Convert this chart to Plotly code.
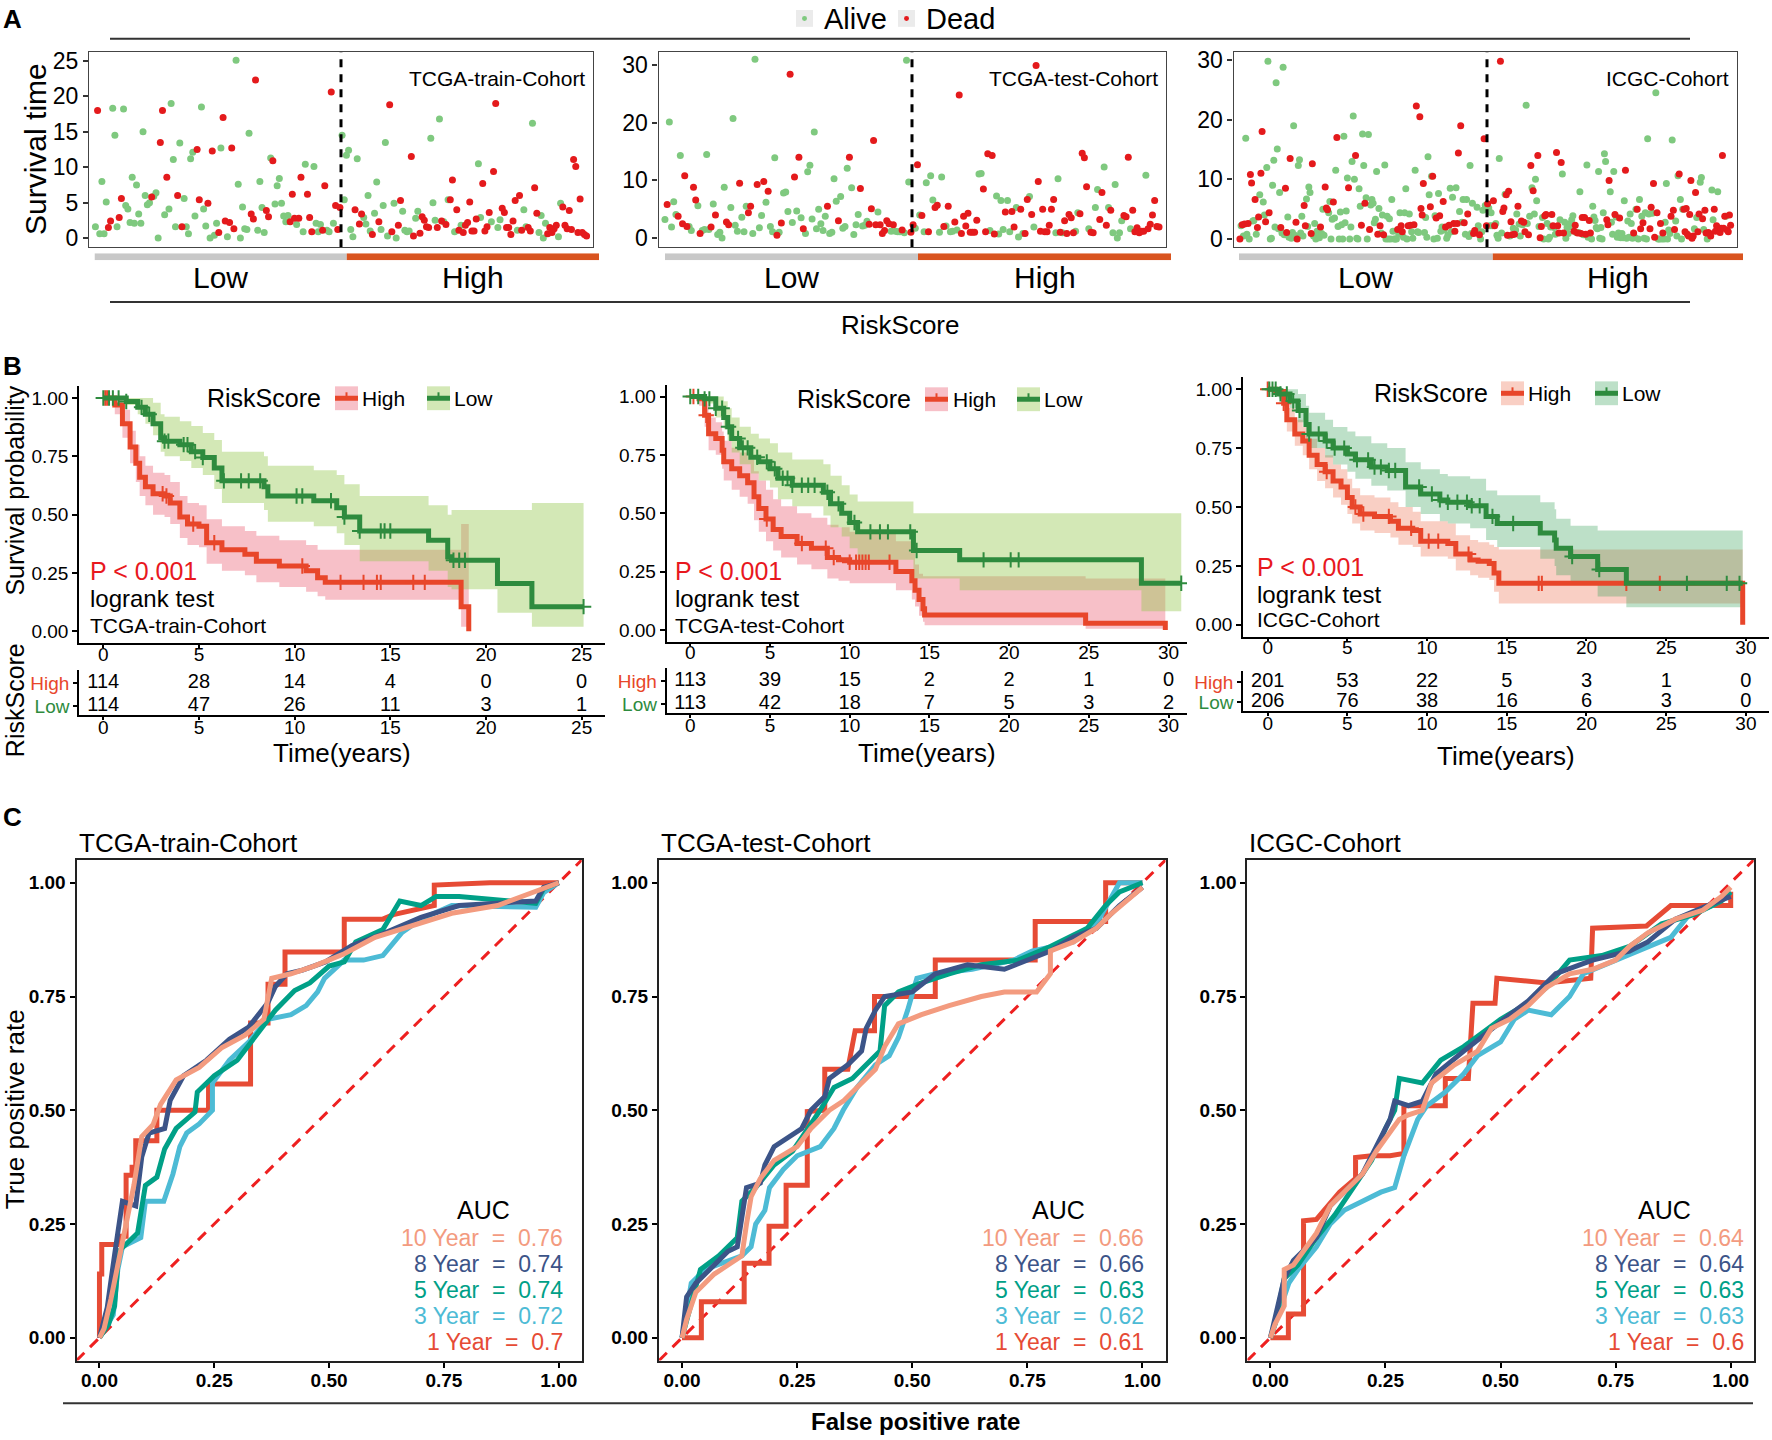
import plotly.graph_objects as go

W, H = 1772, 1440
FONT = "Liberation Sans, Arial, Helvetica, sans-serif"

def dx(a, b):
    return [a / W, b / W]

def dy(top, bottom):
    return [1 - bottom / H, 1 - top / H]

def px(x):
    return x / W

def py(y):
    return 1 - y / H

# ======================= DATA =======================
cohort_names = ["TCGA-train-Cohort", "TCGA-test-Cohort", "ICGC-Cohort"]

# ---- Panel A: survival time ordered by risk score (A = alive, D = dead)
train_low_time = [1.6, 18, 0.6, 8.0, 0.6, 5.1, 1.5, 2.4, 18.3, 14.5,
                  1.6, 2.9, 5.6, 18.2, 4.6, 4.1, 2.2, 8.6, 2.1, 7.5,
                  3.4, 2.1, 15, 6.0, 4.7, 5.0, 5.8, 5.9, 6.4, 0,
                  13.5, 18, 3.3, 8.6, 4.1, 19, 11.1, 1.6, 6.0, 13.4,
                  1.6, 5.6, 1.6, 0.6, 11.2, 12.1, 3.1, 12.5, 5.4, 18.5,
                  4.1, 1.7, 4.9, 0, 12.3, 0.4, 2.1, 0.8, 12.7, 17,
                  2.4, 0.2, 2.2, 12.7, 1.3, 25.1, 7.6, 0, 4.4, 1.3,
                  1.2, 14.8, 3.4, 2.7, 22.3, 1.1, 8.0, 4.3, 0.8, 3.9,
                  3.0, 11.3, 10.9, 4.8, 7.4, 8.4, 4.9, 3.1, 2.3, 3.2,
                  2.3, 6.2, 2.8, 1.9, 2.8, 8.6, 0.9, 10.4, 6.2, 2.9,
                  0.9, 10.1, 2.1, 0.9, 1.9, 1.1, 7.4, 1.1, 0.9, 20.6,
                  2.1, 4.6, 1.2, 4.3]
train_low_status = ("ADAAAADDAA" "ADDAAAAAAA" "AAAAAADAAA" "DDADAAAADA" "DAAAAAADDA"
                    "AADADAADAD" "DADDDAAAAA" "AADDDAAAAD" "DADAAAAAAA" "DDDADDAADD"
                    "DAAAADDAAD" "ADDD")
train_high_time = [14.5, 5.4, 11.7, 12.4, 1.2, 0.2, 4.0, 11.2, 2.0, 3.4,
                   2.9, 2.0, 6.0, 1.0, 0.5, 3.5, 7.9, 2.3, 1.2, 4.6,
                   13.5, 0.3, 18.8, 0.9, 4.9, 0, 1.8, 5.3, 3.8, 1.1,
                   0.9, 1.0, 11.5, 0.3, 2.8, 3.8, 0.7, 3.0, 2.5, 1.6,
                   1.5, 14.1, 5.0, 2.5, 1.5, 16.8, 2.4, 2.3, 1.9, 5.4,
                   5.4, 8.2, 0.9, 4.0, 1.1, 1.8, 0.8, 1.8, 2.2, 5.1,
                   1.0, 1.0, 2.7, 10.5, 2.9, 7.7, 1.0, 1.6, 3.6, 2.3,
                   9.4, 19.0, 1.5, 2.6, 4.2, 3.6, 1.5, 1.5, 0.5, 2.4,
                   5.3, 1.1, 6.0, 1.1, 4.0, 1.6, 1.5, 1.0, 16.2, 7.1,
                   3.5, 0.8, 3.2, 0, 2.1, 0.6, 1.5, 0.8, 1.3, 1.8,
                   0.2, 4.9, 4.4, 1.8, 1.3, 3.9, 1.2, 11.1, 10.1, 0.8,
                   5.5, 0.8, 0.5, 0.3]
train_high_status = ("AAAAAADADD" "AAAADAADAA" "AADDAADDAA" "AADDAADDDD" "DAAADADADA"
                     "DDADDADDDD" "DDDAADDDDA" "DDAADDDDDD" "DADDAADDAD" "DAAAADDDDD"
                     "AADDDDDDDD" "DDDD")

test_low_time = [3.2, 5.8, 20.1, 1.9, 6.3, 4.1, 3.8, 14.3, 2.5, 10.8,
                 2.0, 2.0, 1.3, 8.8, 6.6, 5.6, 0.8, 1.3, 1.5, 14.5,
                 1.5, 1.9, 5.9, 4.0, 0.6, 1.0, 0, 8.8, 2.8, 2.3,
                 5.3, 20.7, 2.2, 1.2, 9.5, 3.6, 1.1, 5.5, 4.4, 5.5,
                 0.8, 31, 9.3, 1.8, 3.9, 9.8, 6.2, 8.1, 2.0, 1.1,
                 13.9, 0.5, 1.0, 2.6, 7.8, 8.0, 4.6, 28.4, 2.7, 10.6,
                 4.7, 14, 3.5, 1.6, 0.8, 11.5, 12.6, 3.3, 18.4, 1.6,
                 5.0, 2.5, 1.3, 3.8, 5.5, 0.8, 1.0, 10.3, 6.4, 3.0,
                 7.2, 1.7, 2.0, 12.1, 14, 8.7, 0.6, 2.3, 4.1, 8.6,
                 2.1, 2.2, 2.9, 2.4, 5.1, 16.9, 2.3, 4.5, 2.3, 0.8,
                 1.3, 3.0, 2.5, 1.2, 2.3, 1.2, 1.1, 1.1, 1.4, 0.9,
                 30.8, 9.7, 1.0]
test_low_status = ("ADAAAADADD" "DAADDADAAA" "ADADAAAADD" "AAAADAAADD" "AADAADADAA"
                   "ADADAAADAD" "ADADAAAAAA" "AAAADAAAAD" "AAAADAAAAD" "AAADDDDADD"
                   "DDDADAAADA" "AAD")
test_high_time = [2.3, 1.7, 12.7, 4.0, 3.9, 1.1, 9.6, 1.1, 10.8, 6.6,
                  5.3, 5.7, 1.0, 10.6, 2.0, 2.1, 5.5, 1.1, 1.2, 2.8,
                  1.4, 24.8, 0.8, 3.8, 2.1, 4.3, 1.0, 1.0, 1.0, 3.1,
                  11.1, 11.2, 8.5, 1.1, 14.6, 1.3, 14.3, 0.7, 7.3, 0.7,
                  6.5, 1.5, 4.5, 6.5, 1.1, 4.6, 1.9, 5.3, 0.2, 5.0,
                  0.8, 0.8, 6.7, 7.2, 4.1, 1.9, 29.9, 9.8, 1.2, 5.0,
                  1.1, 1.1, 2.2, 5.0, 6.7, 0.9, 10.3, 1.0, 0.9, 3.0,
                  0.8, 4.1, 3.5, 0.9, 1.2, 4.4, 4.2, 14.7, 13.9, 8.9,
                  1.6, 1.0, 0.9, 5.3, 8.4, 3.2, 7.9, 12.3, 2.2, 5.3,
                  4.8, 0.9, 9.3, 0, 0.9, 3.0, 3.9, 3.7, 14, 1.6,
                  4.8, 1.1, 1.8, 0.9, 1.2, 1.2, 10.9, 1.6, 2.4, 4.0,
                  6.5, 2.0, 1.9]
test_high_status = ("DADADAADAA" "DDAADADAAD" "ADDDDDDDDD" "AADDDADDAA" "AADAADDAAD"
                    "ADDADADDDD" "DDDDDAADAD" "DDDDAADDDD" "ADDAADDADA" "DAAAAADDDA"
                    "DDDDDDADDD" "DDD")

icgc_low_time = [0, 2.2, 2.4, 0.5, 2.5, 16.9, 0.8, 2.6, 0, 10.8,
                 9.4, 3.0, 3.1, 6.6, 0.8, 1.9, 3.7, 7.4, 11, 18,
                 6.2, 4.0, 2.9, 12, 29.8, 4.4, 0, 0.1, 9.0, 13.2,
                 2.0, 26.2, 15.1, 1.7, 7.8, 1.9, 1.0, 28.8, 0.7, 8.5,
                 1.1, 3.7, 0.3, 13.5, 0.1, 1.1, 19, 0.6, 2.8, 0,
                 12.3, 13.3, 1.0, 3.8, 0.5, 5.6, 2.2, 6.7, 2.1, 8.7,
                 7.8, 0.9, 12.6, 0.5, 2.6, 0, 1.3, 0.3, 0.2, 2.0,
                 0.9, 5.0, 0.6, 8.7, 5.2, 4.9, 4.4, 6.3, 0, 3.3,
                 6.2, 3.5, 11.5, 17, 2.1, 0, 4.5, 2.4, 0, 17.2,
                 2.7, 4.7, 10.2, 8.6, 0, 2.0, 13, 20.6, 10, 14,
                 0.1, 0, 8.4, 5.5, 2.3, 17.6, 12.3, 6.0, 6.9, 0,
                 17.5, 1.6, 5.7, 6.6, 6.0, 2.7, 3.3, 11.3, 0.8, 5.1,
                 2.2, 1.0, 4.0, 0.7, 12.4, 0, 3.8, 0, 3.4, 0,
                 6.6, 1.3, 0, 0, 0, 1.6, 0.8, 4.4, 2.2, 1.2,
                 0.3, 4.4, 8.4, 0, 2.2, 4.2, 2.3, 1.2, 0.1, 2.4,
                 11.5, 22.3, 1.2, 1.1, 20.5, 5.1, 4.0, 9.3, 1.1, 3.6,
                 0.3, 13.8, 7.4, 5.4, 10.5, 10.5, 0, 3.9, 3.5, 0.1,
                 7.6, 3.9, 1.3, 2.0, 6.3, 1.5, 2.0, 0.1, 0.6, 2.3,
                 8.5, 1.2, 7.0, 2.6, 1.3, 8.6, 2.6, 14.4, 4.6, 19,
                 2.8, 6.6, 2.7, 0.8, 6.6, 4.2, 0.4, 12.3, 0.9, 6.0,
                 0.9, 1.4, 1.3, 5.3, 2.2, 0.7, 0, 1.2, 4.8, 16.8,
                 5.6, 2.2]
icgc_low_status = ("DADADAADAD" "DAADADDADD" "AADAADAAAA" "AAAAADAAAD" "DAADAAAADD"
                   "AAAAADDAAA" "ADDAAAAAAD" "AAADDDAAAA" "DAADAAAAAA" "AAADAAAAAD"
                   "AAAADAADAA" "ADAAAAAADA" "DAADAAAAAA" "AAAAADAADD" "AAAADADAAD"
                   "ADAADDDDAA" "AAADADAADA" "ADAADADAAD" "AAADDADDAD" "AADAADAAAA"
                   "DDAAADAAAD" "AD")
icgc_high_time = [5.9, 5.2, 2.2, 4.4, 2.2, 6.4, 2.2, 2.6, 0.6, 0.1,
                  13.5, 29.8, 1.0, 4.6, 5.2, 7.5, 7.4, 0.6, 8.0, 0.5,
                  2.9, 0.7, 1.8, 0.8, 1.5, 4.2, 5.5, 2.5, 0.5, 3.0,
                  2.4, 2.8, 1.2, 22.4, 2.6, 0.7, 3.8, 12.3, 8.6, 8.1,
                  4.2, 10, 6.4, 14, 2.1, 0.2, 2.1, 3.6, 0, 3.9,
                  4.1, 2.6, 0, 0.3, 2.0, 4.1, 2.2, 1.9, 0.8, 14.5,
                  2.2, 1.0, 3.2, 12.8, 10.9, 1.0, 2.8, 0.1, 1.9, 0.9,
                  2.0, 2.6, 3.2, 3.9, 1.3, 2.3, 1.1, 1.0, 1.1, 7.9,
                  0.9, 3.6, 0.7, 3.6, 0.8, 12.4, 0.3, 3.1, 1.0, 0,
                  5.5, 3.7, 3.1, 1.9, 1.7, 11.3, 0.1, 1.9, 0, 4.4,
                  14.3, 13, 3.2, 2.4, 9.8, 7.9, 2.8, 0.8, 11.3, 4.1,
                  3.7, 0.3, 1.0, 3.5, 0.2, 0.9, 0.2, 6.4, 11.5, 0.1,
                  3.0, 0.3, 4.2, 2.6, 0.1, 1.0, 0.3, 5.0, 5.0, 0,
                  6.6, 1.7, 3.8, 2.7, 0.1, 4.4, 0, 16.8, 4.2, 1.7,
                  5.3, 4.3, 9.3, 0.3, 24.5, 4.4, 0, 0, 2.6, 0,
                  1.0, 0, 2.8, 9.3, 0, 1.5, 0.9, 3.8, 16.6, 4.8,
                  1.6, 3.0, 0.5, 10.6, 10.9, 6.6, 0, 5.0, 5.0, 1.2,
                  5.1, 0.8, 0.5, 4.1, 9.8, 0.1, 0.5, 1.7, 7.8, 3.6,
                  1.2, 4.2, 9.5, 10.3, 3.4, 1.6, 4.8, 1.0, 0, 1.1,
                  0.9, 0.5, 8.2, 3.2, 5.0, 1.3, 2.2, 7.9, 1.4, 1.1,
                  1.8, 14, 1.8, 3.8, 3.8, 1.5, 1.2, 4.0, 2.3]
icgc_high_status = ("DAAAADDAAA" "ADADDADDDA" "DDADAADAAD" "ADDAADADAD" "AAADADDAAD"
                    "DAAAADDAAD" "DDADADAAAA" "AAAADDADAA" "DDADDAADDA" "AAAAAAAAAA"
                    "AADDDAAAAD" "AAADAAAADA" "AAAAADAADA" "ADADAAAAAD" "DADDADAADA"
                    "DAAAAAADAD" "DAAADAAADD" "DDDDDDDADA" "DDAADADDAD" "DDAADDDADD"
                    "DDDDADDDD")

# ---- Panel B: Kaplan-Meier estimates (time, survival, lower CI, upper CI)
km_train_high_t = [0, 0.6, 1.0, 1.4, 1.7, 1.9, 2.2, 2.6, 3.2, 3.5, 4.0, 4.4, 5.0, 5.4, 6.2, 7.4,
                   8.0, 9.2, 10.6, 11.2, 11.6, 18.7, 19.1]
km_train_high_s = [1, .97, .89, .79, .72, .66, .62, .59, .58, .55, .49, .46, .45, .38, .35, .33,
                   .30, .28, .26, .23, .21, .106, 0]
km_train_high_lo = [1, .93, .83, .72, .64, .58, .54, .50, .49, .46, .40, .37, .36, .29, .26, .24,
                    .21, .19, .17, .15, .135, .02, 0]
km_train_high_up = [1, 1, .95, .86, .80, .75, .71, .68, .67, .64, .58, .55, .54, .48, .45, .43,
                    .41, .39, .37, .35, .35, .46, .46]
km_train_low_t = [0, 1.2, 1.8, 2.2, 2.6, 3.0, 3.2, 4.0, 4.6, 5.2, 5.8, 6.2, 8.4, 8.6, 11.0, 12.2,
                  12.6, 13.4, 17.0, 18.0, 18.2, 20.6, 22.4, 25.1]
km_train_low_s = [1, .985, .96, .93, .89, .83, .815, .80, .77, .745, .70, .645, .62, .58, .56, .53,
                  .49, .43, .39, .32, .305, .205, .106, .106]
km_train_low_lo = [1, .97, .93, .89, .84, .77, .75, .73, .70, .67, .61, .55, .52, .47, .45, .42,
                   .37, .30, .26, .19, .18, .08, .02, .02]
km_train_low_up = [1, 1, 1, 1, .98, .93, .92, .90, .88, .85, .82, .77, .75, .71, .69, .67,
                   .63, .58, .54, .50, .52, .52, .55, .55]

km_test_high_t = [0, 0.55, 0.9, 1.15, 1.6, 2.0, 2.1, 2.6, 3.1, 3.6, 4.0, 4.3, 4.75, 5.2, 5.7, 6.7,
                  7.6, 8.6, 9.3, 10.0, 12.9, 13.9, 14.1, 14.35, 14.6, 14.7, 24.8, 29.8]
km_test_high_s = [1, .99, .92, .84, .82, .77, .72, .69, .66, .63, .57, .52, .475, .43, .40, .37,
                  .35, .31, .30, .29, .25, .21, .17, .13, .09, .064, .028, 0]
km_test_high_lo = [1, .96, .87, .77, .75, .69, .64, .60, .57, .54, .47, .42, .38, .34, .31, .28,
                   .26, .22, .21, .20, .17, .13, .10, .06, .035, .02, .005, 0]
km_test_high_up = [1, 1, .97, .91, .89, .85, .81, .78, .76, .73, .68, .64, .60, .56, .53, .50,
                   .48, .45, .44, .42, .38, .33, .28, .24, .23, .23, .22, .22]
km_test_low_t = [0, 0.9, 1.6, 2.1, 2.35, 2.6, 3.1, 3.8, 4.3, 5.0, 5.5, 6.4, 8.35, 8.8, 9.5, 10.0,
                 10.5, 14.0, 16.9, 28.3, 30.8]
km_test_low_s = [1, .99, .95, .91, .87, .82, .78, .74, .72, .69, .65, .62, .59, .54, .50, .46,
                 .42, .34, .30, .20, .20]
km_test_low_lo = [1, .97, .91, .86, .81, .76, .71, .67, .64, .61, .56, .53, .49, .44, .40, .35,
                  .30, .22, .17, .08, .08]
km_test_low_up = [1, 1, 1, .98, .95, .91, .87, .84, .82, .80, .76, .73, .71, .66, .62, .58,
                  .55, .50, .50, .50, .50]

km_icgc_high_t = [0, 0.5, 1.0, 1.2, 1.7, 2.2, 2.6, 3.1, 3.6, 4.1, 4.6, 5.0, 5.3, 5.8, 6.7, 7.7,
                  8.2, 9.1, 9.6, 11.3, 11.8, 12.7, 13.2, 13.9, 14.2, 14.5, 29.8]
km_icgc_high_s = [1, .99, .94, .87, .81, .78, .72, .68, .65, .61, .585, .54, .50, .47, .46, .44,
                  .41, .40, .355, .345, .30, .275, .27, .26, .22, .176, 0]
km_icgc_high_lo = [1, .97, .90, .82, .76, .72, .66, .61, .58, .54, .51, .47, .43, .40, .39, .37,
                   .34, .33, .29, .28, .23, .21, .20, .19, .14, .09, .09]
km_icgc_high_up = [1, 1, .98, .92, .87, .84, .79, .75, .72, .68, .66, .62, .58, .55, .54, .52,
                   .50, .48, .44, .43, .38, .36, .35, .34, .33, .32, .32]
km_icgc_low_t = [0, 0.7, 1.4, 1.9, 2.4, 2.6, 3.6, 4.1, 5.0, 5.5, 6.5, 7.5, 8.65, 9.6, 10.8, 11.3,
                 12.7, 13.7, 14.4, 17.1, 18.0, 18.1, 19.0, 20.7, 22.5, 29.8]
km_icgc_low_s = [1, .98, .95, .91, .85, .81, .78, .75, .725, .70, .67, .655, .585, .555, .53, .52,
                 .505, .46, .43, .39, .36, .325, .29, .235, .176, .176]
km_icgc_low_lo = [1, .96, .92, .86, .79, .75, .71, .68, .65, .62, .59, .57, .50, .47, .44, .43,
                  .41, .36, .33, .28, .25, .21, .18, .12, .075, .075]
km_icgc_low_up = [1, 1, 1, .98, .93, .90, .87, .84, .82, .80, .77, .75, .69, .66, .64, .63,
                  .62, .57, .55, .52, .49, .45, .42, .40, .40, .40]

cens_train_high = [0.1, 0.2, 3.1, 3.3, 4.7, 5.8, 10.4, 12.4, 13.6, 14.3, 14.5, 16.2, 16.8]
cens_train_low = [0.0, 0.3, 0.5, 0.8, 1.2, 2.0, 2.4, 3.2, 3.4, 4.2, 4.4, 4.8, 5.2, 6.3, 7.2, 7.6,
                  8.2, 10.1, 10.4, 11.9, 12.6, 13.4, 14.5, 14.7, 15.0, 18.3, 18.6, 18.9, 25.1]
cens_test_high = [0.2, 1.0, 4.8, 7.0, 8.5, 9.0, 10.0, 10.4, 10.6, 10.8, 11.0, 11.2, 12.5]
cens_test_low = [0.0, 0.5, 0.9, 1.2, 1.6, 2.0, 2.4, 3.0, 3.3, 3.6, 4.2, 4.8, 5.3, 5.8, 6.1, 6.4,
                 7.0, 7.4, 7.8, 8.6, 9.3, 10.3, 11.3, 11.9, 12.4, 13.8, 14.2, 18.4, 20.1, 20.6, 30.8]
cens_icgc_high = [0.0, 1.0, 3.7, 5.5, 6.0, 7.6, 9.0, 10.1, 10.7, 12.6, 17.0, 17.2, 22.5, 24.6]
cens_icgc_low = [0.1, 0.3, 0.5, 0.8, 1.2, 1.6, 2.0, 2.6, 3.2, 3.7, 4.2, 4.8, 5.6, 6.3, 6.7, 7.1,
                 7.6, 8.0, 9.5, 10.3, 10.8, 11.3, 11.9, 12.5, 12.8, 13.3, 14.1, 15.4, 19.1, 20.8,
                 26.3, 28.8, 29.6]

# ---- Numbers at risk
risk_times_train = [0, 5, 10, 15, 20, 25]
risk_times_30 = [0, 5, 10, 15, 20, 25, 30]
risk_train_high = [114, 28, 14, 4, 0, 0]
risk_train_low = [114, 47, 26, 11, 3, 1]
risk_test_high = [113, 39, 15, 2, 2, 1, 0]
risk_test_low = [113, 42, 18, 7, 5, 3, 2]
risk_icgc_high = [201, 53, 22, 5, 3, 1, 0]
risk_icgc_low = [206, 76, 38, 16, 6, 3, 0]

# ---- Panel C: time-dependent ROC curves (FPR, TPR)
roc_train_1 = [(0, 0), (0, 0.14), (0.005, 0.14), (0.005, 0.205), (0.042, 0.205), (0.042, 0.223),
               (0.058, 0.223), (0.058, 0.357), (0.071, 0.357), (0.071, 0.375), (0.079, 0.375),
               (0.079, 0.433), (0.125, 0.433), (0.125, 0.5), (0.2375, 0.5), (0.2375, 0.558),
               (0.329, 0.558), (0.329, 0.692), (0.367, 0.692), (0.367, 0.777), (0.404, 0.777),
               (0.404, 0.848), (0.533, 0.848), (0.533, 0.92), (0.617, 0.92), (0.64, 0.93),
               (0.729, 0.95), (0.729, 0.995), (0.85, 1.0), (1.0, 1.0)]
roc_train_3 = [(0, 0), (0.03, 0.05), (0.04, 0.15), (0.05, 0.2), (0.09, 0.22), (0.1, 0.3), (0.14, 0.3),
               (0.16, 0.36), (0.175, 0.42), (0.19, 0.45), (0.217, 0.47), (0.246, 0.5), (0.246, 0.56),
               (0.283, 0.61), (0.325, 0.65), (0.367, 0.70), (0.417, 0.71), (0.45, 0.73), (0.475, 0.76),
               (0.49, 0.79), (0.533, 0.83), (0.575, 0.83), (0.617, 0.84), (0.658, 0.89), (0.7, 0.92),
               (0.767, 0.95), (0.95, 0.946), (0.967, 0.978), (1, 1)]
roc_train_5 = [(0, 0), (0.02, 0.03), (0.033, 0.07), (0.042, 0.19), (0.083, 0.23), (0.1, 0.335),
               (0.125, 0.353), (0.142, 0.415), (0.167, 0.46), (0.208, 0.496), (0.213, 0.54),
               (0.25, 0.576), (0.3, 0.61), (0.342, 0.665), (0.383, 0.72), (0.425, 0.763),
               (0.458, 0.78), (0.5, 0.817), (0.533, 0.826), (0.558, 0.87), (0.617, 0.897),
               (0.654, 0.96), (0.7, 0.95), (0.733, 0.97), (0.783, 0.97), (0.95, 0.955),
               (0.967, 0.987), (1, 1)]
roc_train_8 = [(0, 0), (0.017, 0.067), (0.033, 0.183), (0.05, 0.3), (0.079, 0.29), (0.092, 0.397),
               (0.108, 0.45), (0.142, 0.46), (0.154, 0.522), (0.183, 0.576), (0.233, 0.61),
               (0.283, 0.656), (0.325, 0.683), (0.367, 0.737), (0.383, 0.772), (0.408, 0.8),
               (0.442, 0.808), (0.492, 0.826), (0.55, 0.862), (0.617, 0.888), (0.7, 0.924),
               (0.783, 0.95), (0.95, 0.96), (0.967, 0.99), (1, 1)]
roc_train_10 = [(0, 0), (0.01, 0.02), (0.025, 0.085), (0.042, 0.174), (0.063, 0.272), (0.075, 0.335),
                (0.092, 0.442), (0.117, 0.469), (0.133, 0.513), (0.167, 0.567), (0.217, 0.594),
                (0.267, 0.638), (0.317, 0.665), (0.358, 0.70), (0.375, 0.79), (0.417, 0.80),
                (0.467, 0.817), (0.533, 0.844), (0.6, 0.88), (0.683, 0.906), (0.767, 0.933),
                (0.867, 0.95), (0.95, 0.982), (1, 1)]

roc_test_1 = [(0, 0), (0.042, 0), (0.042, 0.079), (0.135, 0.079), (0.135, 0.164), (0.189, 0.164),
              (0.189, 0.245), (0.226, 0.245), (0.226, 0.335), (0.272, 0.335), (0.272, 0.497),
              (0.31, 0.5), (0.31, 0.59), (0.36, 0.59), (0.376, 0.675), (0.418, 0.675),
              (0.418, 0.75), (0.55, 0.75), (0.55, 0.83), (0.767, 0.83), (0.767, 0.915),
              (0.92, 0.915), (0.92, 1.0), (1, 1)]
roc_test_3 = [(0, 0), (0.01, 0.06), (0.02, 0.12), (0.05, 0.15), (0.1, 0.17), (0.13, 0.18), (0.15, 0.2),
              (0.16, 0.25), (0.18, 0.28), (0.19, 0.33), (0.22, 0.37), (0.25, 0.4), (0.3, 0.42),
              (0.33, 0.46), (0.35, 0.5), (0.38, 0.55), (0.42, 0.6), (0.45, 0.62), (0.47, 0.66),
              (0.49, 0.72), (0.51, 0.79), (0.55, 0.8), (0.63, 0.81), (0.72, 0.83), (0.76, 0.85),
              (0.85, 0.87), (0.9, 0.91), (0.95, 1.0), (1, 1)]
roc_test_5 = [(0, 0), (0.02, 0.08), (0.04, 0.15), (0.08, 0.18), (0.1, 0.2), (0.12, 0.22), (0.13, 0.3),
              (0.16, 0.33), (0.2, 0.38), (0.24, 0.41), (0.26, 0.44), (0.3, 0.5), (0.33, 0.55),
              (0.37, 0.57), (0.4, 0.6), (0.43, 0.63), (0.44, 0.73), (0.47, 0.76), (0.52, 0.78),
              (0.58, 0.8), (0.65, 0.82), (0.73, 0.83), (0.8, 0.86), (0.88, 0.9), (0.92, 0.95),
              (0.95, 0.98), (1, 1)]
roc_test_8 = [(0, 0), (0.01, 0.09), (0.03, 0.12), (0.07, 0.16), (0.1, 0.19), (0.12, 0.2), (0.13, 0.26),
              (0.14, 0.33), (0.17, 0.34), (0.18, 0.38), (0.2, 0.42), (0.23, 0.44), (0.26, 0.46),
              (0.28, 0.5), (0.31, 0.53), (0.32, 0.57), (0.36, 0.6), (0.39, 0.63), (0.4, 0.68),
              (0.42, 0.72), (0.44, 0.75), (0.5, 0.76), (0.55, 0.8), (0.62, 0.82), (0.7, 0.81),
              (0.8, 0.85), (0.85, 0.88), (0.9, 0.9), (0.95, 0.95), (1, 0.99)]
roc_test_10 = [(0, 0), (0.01, 0.04), (0.03, 0.1), (0.07, 0.14), (0.1, 0.16), (0.13, 0.18), (0.14, 0.25),
               (0.15, 0.31), (0.17, 0.35), (0.2, 0.39), (0.25, 0.42), (0.28, 0.46), (0.32, 0.5),
               (0.35, 0.52), (0.38, 0.55), (0.42, 0.59), (0.44, 0.64), (0.47, 0.69), (0.52, 0.71),
               (0.58, 0.73), (0.65, 0.75), (0.7, 0.76), (0.77, 0.76), (0.8, 0.8), (0.8, 0.85),
               (0.85, 0.87), (0.9, 0.9), (0.93, 0.93), (1, 0.99)]

roc_icgc_1 = [(0, 0), (0.039, 0), (0.039, 0.052), (0.072, 0.052), (0.072, 0.257), (0.1, 0.26),
              (0.15, 0.32), (0.185, 0.35), (0.185, 0.396), (0.22, 0.4), (0.26, 0.4), (0.29, 0.405),
              (0.29, 0.51), (0.38, 0.51), (0.38, 0.57), (0.43, 0.57), (0.44, 0.735), (0.488, 0.735),
              (0.492, 0.79), (0.6, 0.78), (0.696, 0.79), (0.7, 0.9), (0.817, 0.905), (0.87, 0.95),
              (0.96, 0.95), (1, 0.95), (1, 0.98)]
roc_icgc_3 = [(0, 0), (0.02, 0.06), (0.04, 0.12), (0.06, 0.15), (0.1, 0.2), (0.13, 0.25), (0.16, 0.28),
              (0.2, 0.3), (0.24, 0.32), (0.27, 0.33), (0.29, 0.4), (0.32, 0.48), (0.34, 0.51),
              (0.38, 0.54), (0.42, 0.58), (0.45, 0.62), (0.5, 0.65), (0.53, 0.7), (0.56, 0.72),
              (0.61, 0.71), (0.65, 0.75), (0.68, 0.8), (0.75, 0.83), (0.78, 0.84), (0.82, 0.86),
              (0.87, 0.88), (0.91, 0.93), (0.96, 0.95), (1, 0.98)]
roc_icgc_5 = [(0, 0), (0.01, 0.03), (0.03, 0.13), (0.06, 0.16), (0.1, 0.22), (0.14, 0.27), (0.18, 0.33),
              (0.22, 0.39), (0.25, 0.46), (0.27, 0.5), (0.28, 0.57), (0.33, 0.56), (0.37, 0.61),
              (0.42, 0.64), (0.46, 0.67), (0.5, 0.7), (0.55, 0.73), (0.6, 0.77), (0.65, 0.83),
              (0.72, 0.84), (0.78, 0.86), (0.85, 0.91), (0.92, 0.93), (0.98, 0.96), (1, 0.98)]
roc_icgc_8 = [(0, 0), (0.01, 0.04), (0.03, 0.13), (0.05, 0.17), (0.1, 0.22), (0.13, 0.29), (0.16, 0.32),
              (0.2, 0.36), (0.23, 0.42), (0.26, 0.48), (0.27, 0.52), (0.3, 0.51), (0.33, 0.52),
              (0.36, 0.58), (0.42, 0.63), (0.48, 0.68), (0.52, 0.71), (0.56, 0.74), (0.62, 0.8),
              (0.7, 0.83), (0.78, 0.85), (0.82, 0.87), (0.88, 0.92), (0.95, 0.95), (1, 0.97)]
roc_icgc_10 = [(0, 0), (0.01, 0.03), (0.03, 0.07), (0.03, 0.15), (0.05, 0.16), (0.08, 0.2), (0.1, 0.23),
               (0.13, 0.29), (0.16, 0.32), (0.2, 0.36), (0.23, 0.41), (0.26, 0.45), (0.28, 0.48),
               (0.3, 0.49), (0.33, 0.5), (0.35, 0.56), (0.4, 0.6), (0.45, 0.63), (0.48, 0.68),
               (0.52, 0.7), (0.56, 0.73), (0.6, 0.77), (0.65, 0.8), (0.7, 0.81), (0.75, 0.83),
               (0.78, 0.86), (0.82, 0.89), (0.88, 0.92), (0.94, 0.94), (0.98, 0.97), (1, 0.99)]

auc_labels = ["10 Year", "8 Year", "5 Year", "3 Year", "1 Year"]
auc_train = [0.76, 0.74, 0.74, 0.72, 0.7]
auc_test = [0.66, 0.66, 0.63, 0.62, 0.61]
auc_icgc = [0.64, 0.64, 0.63, 0.63, 0.6]

# ======================= STYLE =======================
ALIVE = "#7FC97F"
DEAD = "#E41A1C"
BAR_LOW = "#C8C8C8"
BAR_HIGH = "#D9541F"
KM_HIGH = "#E8462A"
KM_LOW = "#2E8B3E"
BAND_HIGH = ["rgba(235,90,110,0.38)", "rgba(235,90,110,0.38)", "rgba(240,130,100,0.38)"]
BAND_LOW = ["rgba(150,200,80,0.42)", "rgba(150,200,80,0.42)", "rgba(50,160,85,0.32)"]
ROC_COL = {"10 Year": "#F39B7F", "8 Year": "#3C5488", "5 Year": "#00A087",
           "3 Year": "#4DBBD5", "1 Year": "#E64B35"}

A_BOX_X = [(89, 593), (658.5, 1165.5), (1233.5, 1737)]
A_BOX_Y = (47, 244)
A_YR = [[-1.3, 26.3], [-1.6, 32.3], [-1.4, 31.4]]
A_YT = [[0, 5, 10, 15, 20, 25], [0, 10, 20, 30], [0, 10, 20, 30]]
BAR_X = [(94.5, 599), (665, 1171), (1239, 1743)]
BAR_Y = (250, 257)
KM_X = [(79, 605), (666.5, 1187), (1243, 1769)]
KM_XR = [[-1.27, 26.22], [-1.49, 31.16], [-1.55, 31.45]]
KM_Y = [(384, 642.5), (382.5, 641), (375, 636)]
TB_Y = [(670, 715), (668, 713), (671, 711)]
TB_YR = [[-0.40, 1.55], [-0.40, 1.55], [-0.45, 1.53]]
ROC_X = [(76.5, 581.7), (659, 1165.5), (1247.4, 1753.7)]
ROC_Y = (861, 1365)
ROC_R = [-0.05, 1.05]

low_times = [train_low_time, test_low_time, icgc_low_time]
low_stat = [train_low_status, test_low_status, icgc_low_status]
high_times = [train_high_time, test_high_time, icgc_high_time]
high_stat = [train_high_status, test_high_status, icgc_high_status]

km_sets = [
    [(km_train_high_t, km_train_high_s, km_train_high_lo, km_train_high_up, cens_train_high),
     (km_train_low_t, km_train_low_s, km_train_low_lo, km_train_low_up, cens_train_low)],
    [(km_test_high_t, km_test_high_s, km_test_high_lo, km_test_high_up, cens_test_high),
     (km_test_low_t, km_test_low_s, km_test_low_lo, km_test_low_up, cens_test_low)],
    [(km_icgc_high_t, km_icgc_high_s, km_icgc_high_lo, km_icgc_high_up, cens_icgc_high),
     (km_icgc_low_t, km_icgc_low_s, km_icgc_low_lo, km_icgc_low_up, cens_icgc_low)],
]
risk_sets = [(risk_times_train, risk_train_high, risk_train_low),
             (risk_times_30, risk_test_high, risk_test_low),
             (risk_times_30, risk_icgc_high, risk_icgc_low)]
roc_sets = [[roc_train_1, roc_train_3, roc_train_5, roc_train_8, roc_train_10],
            [roc_test_1, roc_test_3, roc_test_5, roc_test_8, roc_test_10],
            [roc_icgc_1, roc_icgc_3, roc_icgc_5, roc_icgc_8, roc_icgc_10]]
roc_names = ["1 Year", "3 Year", "5 Year", "8 Year", "10 Year"]
auc_sets = [auc_train, auc_test, auc_icgc]


def step_at(t, times, surv):
    val = surv[0]
    for ti, si in zip(times, surv):
        if ti <= t:
            val = si
        else:
            break
    return val


fig = go.Figure()
annotations = []
shapes = []
axes = {}


def ann(text, x, y, size, color="black", xanchor="center", yanchor="middle", angle=0,
        weight="normal", xref="paper", yref="paper"):
    annotations.append(dict(text=text, x=x, y=y, xref=xref, yref=yref, showarrow=False,
                            xanchor=xanchor, yanchor=yanchor, textangle=angle,
                            font=dict(size=size, color=color, family=FONT, weight=weight)))


def hline(x0, x1, y, color="#333333", width=2):
    shapes.append(dict(type="line", xref="paper", yref="paper", x0=px(x0), x1=px(x1),
                       y0=py(y), y1=py(y), line=dict(color=color, width=width)))


# ======================= PANEL A =======================
for k in range(3):
    xa, ya = f"x{k + 1}", f"y{k + 1}"
    xb, yb = f"x{k + 4}", f"y{k + 4}"
    times = low_times[k] + high_times[k]
    stat = low_stat[k] + high_stat[k]
    n = len(times)
    n_low = len(low_times[k])
    idx = list(range(1, n + 1))
    for code, col in (("A", ALIVE), ("D", DEAD)):
        fig.add_trace(go.Scatter(
            x=[i for i, s in zip(idx, stat) if s == code],
            y=[t for t, s in zip(times, stat) if s == code],
            mode="markers", showlegend=False,
            marker=dict(color=col, size=7, line=dict(width=0)),
            xaxis=xa, yaxis=ya, hoverinfo="skip"))
    fig.add_trace(go.Scatter(x=[n_low + 0.5, n_low + 0.5], y=A_YR[k], mode="lines",
                             line=dict(color="black", width=3, dash="8px,7px"),
                             showlegend=False, xaxis=xa, yaxis=ya, hoverinfo="skip"))
    pad = 0.013 * n
    axes[f"xaxis{k + 1}"] = dict(domain=dx(*A_BOX_X[k]), range=[1 - pad, n + pad], anchor=ya,
                                 showticklabels=False, ticks="", showgrid=False, zeroline=False,
                                 showline=True, mirror=True, linecolor="#444444", linewidth=1.3)
    axes[f"yaxis{k + 1}"] = dict(domain=dy(*A_BOX_Y), range=A_YR[k], anchor=xa, tickvals=A_YT[k],
                                 ticks="outside", ticklen=5, tickwidth=1.5, tickcolor="#333333",
                                 tickfont=dict(size=23, color="black", family=FONT),
                                 showgrid=False, zeroline=False, showline=True, mirror=True,
                                 linecolor="#444444", linewidth=1.3)
    fig.add_trace(go.Scatter(x=[0.5, n_low + 0.5], y=[0.5, 0.5], mode="lines",
                             line=dict(color=BAR_LOW, width=7), showlegend=False,
                             xaxis=xb, yaxis=yb, hoverinfo="skip"))
    fig.add_trace(go.Scatter(x=[n_low + 0.5, n + 0.5], y=[0.5, 0.5], mode="lines",
                             line=dict(color=BAR_HIGH, width=7), showlegend=False,
                             xaxis=xb, yaxis=yb, hoverinfo="skip"))
    axes[f"xaxis{k + 4}"] = dict(domain=dx(*BAR_X[k]), range=[0.5, n + 0.5], anchor=yb, visible=False)
    axes[f"yaxis{k + 4}"] = dict(domain=dy(*BAR_Y), range=[0, 1], anchor=xb, visible=False)
    ann("Low", (n_low + 1) / 2, py(274), 30, xref=xb)
    ann("High", n_low + (n - n_low + 1) / 2, py(274), 30, xref=xb)
    ann(cohort_names[k], px(A_BOX_X[k][1] - 6), py(74), 21, xanchor="right")

# Alive / Dead legend
for sq, dot_col, label in ((796, ALIVE, "Alive"), (898, DEAD, "Dead")):
    shapes.append(dict(type="rect", xref="paper", yref="paper", x0=px(sq), x1=px(sq + 17),
                       y0=py(22), y1=py(5), fillcolor="#EBEBEB", line=dict(width=0)))
    shapes.append(dict(type="circle", xref="paper", yref="paper", x0=px(sq + 6), x1=px(sq + 11),
                       y0=py(16), y1=py(11), fillcolor=dot_col, line=dict(width=0)))
    ann(label, px(sq + 26), py(14), 29, xanchor="left")

annotations.append(dict(text="A", x=px(1), y=py(14), xref="paper", yref="paper", showarrow=False,
                        xanchor="left", yanchor="middle",
                        font=dict(size=26, family=FONT, color="black", weight="bold")))
ann("Survival time", px(36), py(145), 30, angle=-90)
ann("RiskScore", px(900), py(322), 26)
hline(110, 1690, 34)
hline(110, 1690, 299)

# ======================= PANEL B =======================
annotations.append(dict(text="B", x=px(1), y=py(364), xref="paper", yref="paper", showarrow=False,
                        xanchor="left", yanchor="middle",
                        font=dict(size=26, family=FONT, color="black", weight="bold")))
P_X = [88, 673, 1255]
P_Y = [570, 570, 566]
LR_Y = [598, 598, 594]
CN_Y = [625, 625, 619]
LEG = [dict(cx=264, y=396, hk=(335, 358), ht=360, lk=(427, 450), lt=452),
       dict(cx=854, y=397, hk=(925, 948), ht=951, lk=(1017, 1040), lt=1042),
       dict(cx=1431, y=391, hk=(1501, 1524), ht=1526, lk=(1595, 1618), lt=1620)]
TIME_Y = [753, 753, 756]
TICKF = dict(size=19, color="black", family=FONT)

for k in range(3):
    xk, yk = f"x{k + 7}", f"y{k + 7}"
    xt, yt = f"x{k + 10}", f"y{k + 10}"
    bands = [BAND_HIGH[k], BAND_LOW[k]]
    lines = [KM_HIGH, KM_LOW]
    for g, (t, s, lo, up, cens) in enumerate(km_sets[k]):
        fig.add_trace(go.Scatter(x=t, y=up, mode="lines", line=dict(width=0, shape="hv"),
                                 showlegend=False, xaxis=xk, yaxis=yk, hoverinfo="skip"))
        fig.add_trace(go.Scatter(x=t, y=lo, mode="lines", line=dict(width=0, shape="hv"),
                                 fill="tonexty", fillcolor=bands[g], showlegend=False,
                                 xaxis=xk, yaxis=yk, hoverinfo="skip"))
    for g, (t, s, lo, up, cens) in enumerate(km_sets[k]):
        fig.add_trace(go.Scatter(x=t, y=s, mode="lines", line=dict(color=lines[g], width=5, shape="hv"),
                                 showlegend=False, xaxis=xk, yaxis=yk, hoverinfo="skip"))
        fig.add_trace(go.Scatter(x=cens, y=[step_at(c, t, s) for c in cens], mode="markers",
                                 marker=dict(symbol="cross-thin", size=11,
                                             line=dict(color=lines[g], width=2)),
                                 showlegend=False, xaxis=xk, yaxis=yk, hoverinfo="skip"))
    rt, rh, rl = risk_sets[k]
    axes[f"xaxis{k + 7}"] = dict(domain=dx(*KM_X[k]), range=KM_XR[k], anchor=yk, tickvals=rt,
                                 ticks="outside", ticklen=3, tickwidth=1.5, tickcolor="black",
                                 ticklabelstandoff=-10, tickfont=TICKF,
                                 showgrid=False, zeroline=False, showline=True,
                                 linecolor="black", linewidth=1.5)
    axes[f"yaxis{k + 7}"] = dict(domain=dy(*KM_Y[k]), range=[-0.05, 1.05], anchor=xk,
                                 tickvals=[0, 0.25, 0.5, 0.75, 1],
                                 ticktext=["0.00", "0.25", "0.50", "0.75", "1.00"],
                                 ticks="outside", ticklen=5, tickwidth=1.5, tickcolor="black",
                                 tickfont=TICKF,
                                 showgrid=False, zeroline=False, showline=True,
                                 linecolor="black", linewidth=1.5)
    fig.add_trace(go.Scatter(x=rt, y=[1] * len(rt), mode="text", text=[str(v) for v in rh],
                             textfont=dict(size=20, color="black", family=FONT),
                             showlegend=False, xaxis=xt, yaxis=yt, hoverinfo="skip"))
    fig.add_trace(go.Scatter(x=rt, y=[0] * len(rt), mode="text", text=[str(v) for v in rl],
                             textfont=dict(size=20, color="black", family=FONT),
                             showlegend=False, xaxis=xt, yaxis=yt, hoverinfo="skip"))
    axes[f"xaxis{k + 10}"] = dict(domain=dx(*KM_X[k]), range=KM_XR[k], anchor=yt, tickvals=rt,
                                  ticks="outside", ticklen=3, tickwidth=1.5, tickcolor="black",
                                  ticklabelstandoff=-9, tickfont=TICKF,
                                  showgrid=False, zeroline=False, showline=True,
                                  linecolor="black", linewidth=1.5)
    axes[f"yaxis{k + 10}"] = dict(domain=dy(*TB_Y[k]), range=TB_YR[k], anchor=xt, tickvals=[1, 0],
                                  ticktext=[f'<span style="color:{KM_HIGH}">High</span>',
                                            f'<span style="color:{KM_LOW}">Low</span>'],
                                  ticks="outside", ticklen=4, tickwidth=1.5, tickcolor="black",
                                  tickfont=dict(size=19, family=FONT),
                                  showgrid=False, zeroline=False, showline=True,
                                  linecolor="black", linewidth=1.5)
    ann("P < 0.001", px(P_X[k]), py(P_Y[k]), 25, color="#E8181E", xanchor="left")
    ann("logrank test", px(P_X[k]), py(LR_Y[k]), 24, xanchor="left")
    ann(cohort_names[k], px(P_X[k]), py(CN_Y[k]), 21, xanchor="left")
    ann("Time(years)", 0.5, py(TIME_Y[k]), 26, xref=f"x{k + 10} domain")
    L = LEG[k]
    ann("RiskScore", px(L["cx"]), py(L["y"]), 25)
    for key, band, lc in ((L["hk"], BAND_HIGH[k], KM_HIGH), (L["lk"], BAND_LOW[k], KM_LOW)):
        shapes.append(dict(type="rect", xref="paper", yref="paper", x0=px(key[0]), x1=px(key[1]),
                           y0=py(L["y"] + 12), y1=py(L["y"] - 12), fillcolor=band, line=dict(width=0)))
        shapes.append(dict(type="line", xref="paper", yref="paper", x0=px(key[0]), x1=px(key[1]),
                           y0=py(L["y"]), y1=py(L["y"]), line=dict(color=lc, width=5)))
        shapes.append(dict(type="line", xref="paper", yref="paper", x0=px((key[0] + key[1]) / 2),
                           x1=px((key[0] + key[1]) / 2), y0=py(L["y"] - 6), y1=py(L["y"] + 1),
                           line=dict(color=lc, width=2)))
    ann("High", px(L["ht"]), py(L["y"]), 21, xanchor="left")
    ann("Low", px(L["lt"]), py(L["y"]), 21, xanchor="left")

ann("Survival probability", px(15), py(489), 25, angle=-90)
ann("RiskScore", px(15), py(700), 25, angle=-90)

# ======================= PANEL C =======================
annotations.append(dict(text="C", x=px(1), y=py(818), xref="paper", yref="paper", showarrow=False,
                        xanchor="left", yanchor="middle",
                        font=dict(size=26, family=FONT, color="black", weight="bold")))
AUC_RIGHT = [564.5, 1146, 1746]
AUC_CENTER = [483, 1058, 1664.5]
AUC_HEAD_Y = 1213
AUC_Y0, AUC_DY = 1242, 26

for k in range(3):
    xr, yr = f"x{k + 13}", f"y{k + 13}"
    fig.add_trace(go.Scatter(x=ROC_R, y=ROC_R, mode="lines",
                             line=dict(color="#EE2020", width=3, dash="11px,8px"),
                             showlegend=False, xaxis=xr, yaxis=yr, hoverinfo="skip"))
    for nm, curve in zip(roc_names, roc_sets[k]):
        fig.add_trace(go.Scatter(x=[p[0] for p in curve], y=[p[1] for p in curve], mode="lines",
                                 line=dict(color=ROC_COL[nm], width=5),
                                 showlegend=False, xaxis=xr, yaxis=yr, hoverinfo="skip"))
    tick = dict(ticks="outside", ticklen=5, tickwidth=1.5, tickcolor="black",
                tickfont=dict(size=19, color="black", family=FONT, weight="bold"),
                tickvals=[0, 0.25, 0.5, 0.75, 1], ticktext=["0.00", "0.25", "0.50", "0.75", "1.00"],
                showgrid=False, zeroline=False, showline=True, mirror=True,
                linecolor="#222222", linewidth=2)
    axes[f"xaxis{k + 13}"] = dict(domain=dx(*ROC_X[k]), range=ROC_R, anchor=yr, ticklabelstandoff=-3, **tick)
    axes[f"yaxis{k + 13}"] = dict(domain=dy(*ROC_Y), range=ROC_R, anchor=xr, **tick)
    ann(cohort_names[k], px(ROC_X[k][0]), py(844), 26, xanchor="left")
    ann("AUC", px(AUC_CENTER[k]), py(AUC_HEAD_Y), 25)
    for i, (lab, val) in enumerate(zip(auc_labels, auc_sets[k])):
        ann(f"{lab}\u00a0\u00a0=\u00a0\u00a0{val:g}", px(AUC_RIGHT[k]), py(AUC_Y0 + i * AUC_DY), 23,
            color=ROC_COL[lab], xanchor="right")

ann("True positive rate", px(15), py(1112), 26, angle=-90)
ann("False positive rate", px(915), py(1426), 24, weight="bold")
hline(63, 1753, 1408)

fig.update_layout(
    width=W, height=H, margin=dict(l=0, r=0, t=0, b=0, pad=0),
    paper_bgcolor="white", plot_bgcolor="white",
    font=dict(family=FONT, color="black"),
    showlegend=False,
    annotations=annotations, shapes=shapes, **axes)

fig.write_html("out.html", config={"displayModeBar": False},
               post_script="document.body.style.margin='0px';")
